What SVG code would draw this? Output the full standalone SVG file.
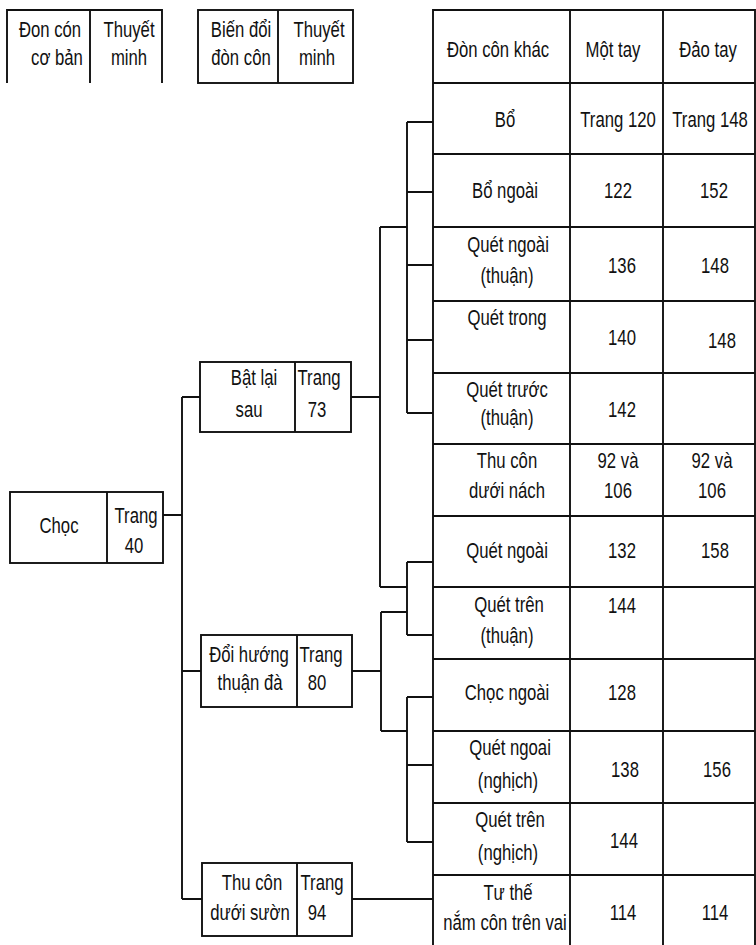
<svg xmlns="http://www.w3.org/2000/svg" width="756" height="945" viewBox="0 0 756 945">
<style>
text{font-family:"Liberation Sans",Arial,sans-serif;font-size:22px;fill:#111;text-anchor:middle}
.b{fill:#fff;stroke:#111;stroke-width:1.9}
.l{fill:none;stroke:#111;stroke-width:1.9}
</style>
<rect x="0" y="0" width="756" height="945" fill="#fff"/>
<g id="legend1">
<path class="l" d="M7,83V10H162V83M90,10V83"/>
<text transform="translate(50,37) scale(.76,1)">Đon cón</text>
<text transform="translate(57,65) scale(.76,1)">cơ bản</text>
<text transform="translate(129,37) scale(.76,1)">Thuyết</text>
<text transform="translate(129,65) scale(.76,1)">minh</text>
</g>
<g id="legend2">
<rect class="b" x="198" y="10" width="155" height="73"/>
<path class="l" d="M278,10V83"/>
<text transform="translate(241,37) scale(.76,1)">Biến đổi</text>
<text transform="translate(241,65) scale(.76,1)">đòn côn</text>
<text transform="translate(319,37) scale(.76,1)">Thuyết</text>
<text transform="translate(317,65) scale(.76,1)">minh</text>
</g>
<g id="connectors" class="l">
<path class="l" d="M163,515H182M182,397V899M182,397H200M182,671H201M182,899H202"/>
<path class="l" d="M351,397H380M380,227V587M380,227H407M380,587H407"/>
<path class="l" d="M407,122V413M407,122H433M407,192H433M407,265H433M407,340H433M407,413H433"/>
<path class="l" d="M407,562V635M407,562H433M407,635H433"/>
<path class="l" d="M352,671H381M381,612V731M381,612H407M381,731H407"/>
<path class="l" d="M407,697V842M407,697H433M407,765H433M407,842H433"/>
<path class="l" d="M352,899H433"/>
</g>
<g id="choc">
<rect class="b" x="10" y="492" width="153" height="71"/>
<path class="l" d="M107,492V563"/>
<text transform="translate(59,533) scale(.76,1)">Chọc</text>
<text transform="translate(136,523) scale(.76,1)">Trang</text>
<text transform="translate(134,553) scale(.76,1)">40</text>
</g>
<g id="bat-lai-sau">
<rect class="b" x="200" y="362" width="151" height="70"/>
<path class="l" d="M295,362V432"/>
<text transform="translate(254,385) scale(.76,1)">Bật lại</text>
<text transform="translate(249,417) scale(.76,1)">sau</text>
<text transform="translate(319,385) scale(.76,1)">Trang</text>
<text transform="translate(317,417) scale(.76,1)">73</text>
</g>
<g id="doi-huong">
<rect class="b" x="201" y="635" width="151" height="72"/>
<path class="l" d="M297,635V707"/>
<text transform="translate(249,662) scale(.76,1)">Đổi hướng</text>
<text transform="translate(250,690) scale(.76,1)">thuận đà</text>
<text transform="translate(321,662) scale(.76,1)">Trang</text>
<text transform="translate(317,690) scale(.76,1)">80</text>
</g>
<g id="thu-con-duoi-suon">
<rect class="b" x="202" y="863" width="150" height="73"/>
<path class="l" d="M297,863V936"/>
<text transform="translate(252,890) scale(.76,1)">Thu côn</text>
<text transform="translate(250,920) scale(.76,1)">dưới sườn</text>
<text transform="translate(322,890) scale(.76,1)">Trang</text>
<text transform="translate(317,920) scale(.76,1)">94</text>
</g>
<g id="table-grid">
<path class="l" d="M433,945V10H755V945M570,10V945M663,10V945M433,83H755M433,154H755M433,227H755M433,301H755M433,373H755M433,444H755M433,516H755M433,587H755M433,659H755M433,731H755M433,803H755M433,875H755"/>
</g>
<g id="row-header">
<text transform="translate(498,57) scale(.76,1)">Đòn côn khác</text>
<text transform="translate(613,57) scale(.76,1)">Một tay</text>
<text transform="translate(708,57) scale(.76,1)">Đảo tay</text>
</g>
<g id="row-bo">
<text transform="translate(505,127) scale(.76,1)">Bổ</text>
<text transform="translate(618,127) scale(.76,1)">Trang 120</text>
<text transform="translate(710,127) scale(.76,1)">Trang 148</text>
</g>
<g id="row-bo-ngoai">
<text transform="translate(505,198) scale(.76,1)">Bổ ngoài</text>
<text transform="translate(618,198) scale(.76,1)">122</text>
<text transform="translate(714,198) scale(.76,1)">152</text>
</g>
<g id="row-quet-ngoai-thuan">
<text transform="translate(508,252) scale(.76,1)">Quét ngoài</text>
<text transform="translate(507,283) scale(.76,1)">(thuận)</text>
<text transform="translate(622,273) scale(.76,1)">136</text>
<text transform="translate(715,273) scale(.76,1)">148</text>
</g>
<g id="row-quet-trong">
<text transform="translate(507,325) scale(.76,1)">Quét trong</text>
<text transform="translate(622,345) scale(.76,1)">140</text>
<text transform="translate(722,348) scale(.76,1)">148</text>
</g>
<g id="row-quet-truoc">
<text transform="translate(507,397) scale(.76,1)">Quét trước</text>
<text transform="translate(507,425) scale(.76,1)">(thuận)</text>
<text transform="translate(622,417) scale(.76,1)">142</text>
</g>
<g id="row-thu-con-duoi-nach">
<text transform="translate(507,468) scale(.76,1)">Thu côn</text>
<text transform="translate(507,498) scale(.76,1)">dưới nách</text>
<text transform="translate(618,468) scale(.76,1)">92 và</text>
<text transform="translate(618,498) scale(.76,1)">106</text>
<text transform="translate(712,468) scale(.76,1)">92 và</text>
<text transform="translate(712,498) scale(.76,1)">106</text>
</g>
<g id="row-quet-ngoai">
<text transform="translate(507,558) scale(.76,1)">Quét ngoài</text>
<text transform="translate(622,558) scale(.76,1)">132</text>
<text transform="translate(715,558) scale(.76,1)">158</text>
</g>
<g id="row-quet-tren-thuan">
<text transform="translate(509,612) scale(.76,1)">Quét trên</text>
<text transform="translate(507,643) scale(.76,1)">(thuận)</text>
<text transform="translate(622,613) scale(.76,1)">144</text>
</g>
<g id="row-choc-ngoai">
<text transform="translate(507,700) scale(.76,1)">Chọc ngoài</text>
<text transform="translate(622,700) scale(.76,1)">128</text>
</g>
<g id="row-quet-ngoai-nghich">
<text transform="translate(510,755) scale(.76,1)">Quét ngoai</text>
<text transform="translate(508,788) scale(.76,1)">(nghịch)</text>
<text transform="translate(625,777) scale(.76,1)">138</text>
<text transform="translate(717,777) scale(.76,1)">156</text>
</g>
<g id="row-quet-tren-nghich">
<text transform="translate(510,827) scale(.76,1)">Quét trên</text>
<text transform="translate(508,860) scale(.76,1)">(nghịch)</text>
<text transform="translate(624,848) scale(.76,1)">144</text>
</g>
<g id="row-tu-the">
<text transform="translate(508,900) scale(.76,1)">Tư thế</text>
<text transform="translate(505,930) scale(.76,1)">nắm côn trên vai</text>
<text transform="translate(623,920) scale(.76,1)">114</text>
<text transform="translate(715,920) scale(.76,1)">114</text>
</g>
</svg>
